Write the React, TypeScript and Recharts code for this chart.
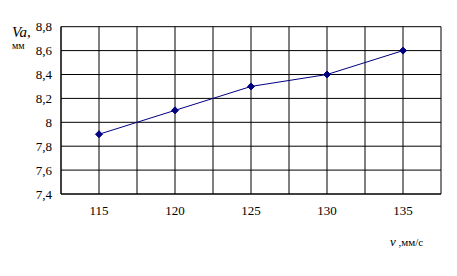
import React from 'react';
import { LineChart, Line, XAxis, YAxis, CartesianGrid } from 'recharts';

const speeds = [115, 120, 125, 130, 135];
const vaValues = [7.9, 8.1, 8.3, 8.4, 8.6];
const yTicks = [7.4, 7.6, 7.8, 8.0, 8.2, 8.4, 8.6, 8.8];
const xGridTicks = [112.5, 115, 117.5, 120, 122.5, 125, 127.5, 130, 132.5, 135, 137.5];

const data = speeds.map((s, i) => ({ v: s, va: vaValues[i] }));

const fontFamily = "'Times New Roman', 'Liberation Serif', 'DejaVu Serif', serif";

const Diamond = (props: any) => {
  const { cx, cy } = props;
  if (cx == null || cy == null) return null;
  const r = 3.5;
  return (
    <path
      d={`M${cx},${cy - r} L${cx + r},${cy} L${cx},${cy + r} L${cx - r},${cy} Z`}
      fill="#000080"
      stroke="#000080"
    />
  );
};

const fmtY = (v: number) => {
  const s = Number.isInteger(v) ? String(v) : v.toFixed(1);
  return s.replace('.', ',');
};
const fmtX = (v: number) => (Number.isInteger(v) ? String(v) : '');

export default function App() {
  return (
    <div style={{ position: 'absolute', left: 0, top: 0, width: 457, height: 276, background: '#fff', fontFamily }}>
      <LineChart
        width={457}
        height={276}
        data={data}
        margin={{ top: 26.7, right: 16, bottom: 0, left: 0 }}
        style={{ fontFamily }}
      >
        <CartesianGrid stroke="#000" strokeWidth={1} fill="#fff" />
        <XAxis
          dataKey="v"
          type="number"
          domain={[112.5, 137.5]}
          ticks={xGridTicks}
          interval={0}
          tickFormatter={fmtX}
          tickLine={false}
          axisLine={{ stroke: '#000' }}
          tickMargin={6}
          tick={{ fill: '#000', fontSize: 13, fontFamily }}
          height={82}
        />
        <YAxis
          type="number"
          domain={[7.4, 8.8]}
          ticks={yTicks}
          interval={0}
          tickFormatter={fmtY}
          tickLine={false}
          axisLine={{ stroke: '#000' }}
          tickMargin={3}
          width={61}
          tick={{ fill: '#000', fontSize: 13, fontFamily }}
        />
        <Line
          dataKey="va"
          stroke="#000080"
          strokeWidth={1}
          dot={<Diamond />}
          activeDot={false}
          isAnimationActive={false}
        />
      </LineChart>
      <div style={{ position: 'absolute', left: 12, top: 25, fontFamily, fontStyle: 'italic', fontSize: 15, color: '#000', lineHeight: 1 }}>
        Va<span style={{ fontStyle: 'normal' }}>,</span>
      </div>
      <div style={{ position: 'absolute', left: 12, top: 41, fontFamily, fontSize: 10, color: '#000', lineHeight: 1 }}>
        мм
      </div>
      <div style={{ position: 'absolute', left: 390, top: 235, fontFamily, fontSize: 11, color: '#000', lineHeight: 1 }}>
        <span style={{ fontStyle: 'italic', fontSize: 13 }}>v</span> ,мм/с
      </div>
    </div>
  );
}
